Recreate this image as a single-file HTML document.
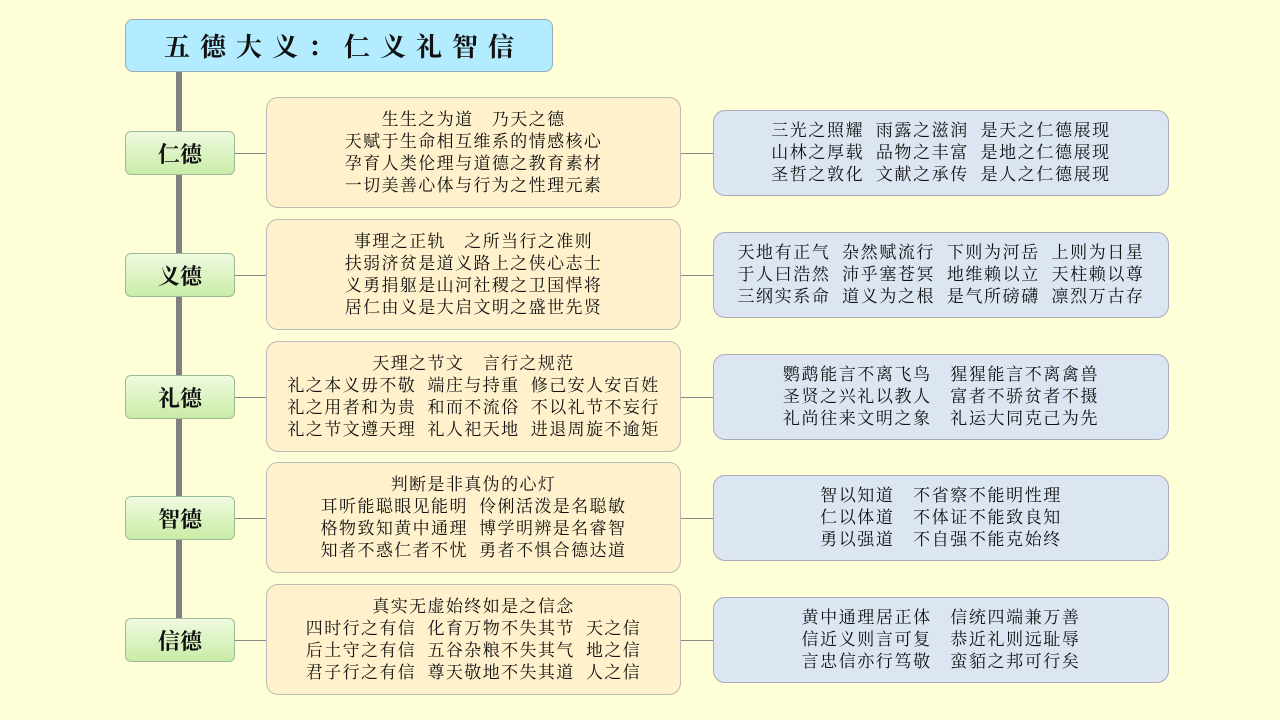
<!DOCTYPE html>
<html><head><meta charset="utf-8"><style>
body{margin:0;width:1280px;height:720px;background:#ffffd7;position:relative;overflow:hidden;font-family:"Liberation Serif","Noto Serif CJK SC",serif;color:#111}
.b{position:absolute;box-sizing:border-box;display:flex;flex-direction:column;justify-content:center;align-items:center;text-align:center;white-space:pre}
.t{left:125px;top:19px;width:428px;height:53px;background:#b3ecfe;border:1px solid #9ab;border-radius:8px;font-size:26px;font-weight:bold;letter-spacing:10px;padding-left:10px}
.l{left:125px;width:110px;height:44px;background:linear-gradient(#f0fae0,#c9eca6);border:1px solid #9b9;border-radius:6px;font-size:22px;font-weight:bold}
.m{left:266px;width:415px;height:111px;background:#fff1cc;border:1px solid #bbb;border-radius:12px;font-size:17px;line-height:22px;letter-spacing:1.4px}
.r{left:713px;width:456px;height:86px;background:#dce6f2;border:1px solid #aab;border-radius:12px;font-size:17px;line-height:22px;letter-spacing:1.6px}
.h{position:absolute;height:1px;background:#888}
</style></head><body>
<div style="position:absolute;left:176px;top:72px;width:6px;height:570px;background:#808080"></div>
<div class="b t">五德大义：仁义礼智信</div>

<div class="h" style="left:235px;top:153px;width:31px"></div><div class="h" style="left:681px;top:153px;width:32px"></div>
<div class="h" style="left:235px;top:275px;width:31px"></div><div class="h" style="left:681px;top:275px;width:32px"></div>
<div class="h" style="left:235px;top:397px;width:31px"></div><div class="h" style="left:681px;top:397px;width:32px"></div>
<div class="h" style="left:235px;top:518px;width:31px"></div><div class="h" style="left:681px;top:518px;width:32px"></div>
<div class="h" style="left:235px;top:640px;width:31px"></div><div class="h" style="left:681px;top:640px;width:32px"></div>

<div class="b l" style="top:131px">仁德</div>
<div class="b l" style="top:253px">义德</div>
<div class="b l" style="top:375px">礼德</div>
<div class="b l" style="top:496px">智德</div>
<div class="b l" style="top:618px">信德</div>

<div class="b m" style="top:97px"><div>生生之为道　乃天之德</div><div>天赋于生命相互维系的情感核心</div><div>孕育人类伦理与道德之教育素材</div><div>一切美善心体与行为之性理元素</div></div>
<div class="b m" style="top:219px"><div>事理之正轨　之所当行之准则</div><div>扶弱济贫是道义路上之侠心志士</div><div>义勇捐躯是山河社稷之卫国悍将</div><div>居仁由义是大启文明之盛世先贤</div></div>
<div class="b m" style="top:341px"><div>天理之节文　言行之规范</div><div>礼之本义毋不敬  端庄与持重  修己安人安百姓</div><div>礼之用者和为贵  和而不流俗  不以礼节不妄行</div><div>礼之节文遵天理  礼人祀天地  进退周旋不逾矩</div></div>
<div class="b m" style="top:462px"><div>判断是非真伪的心灯</div><div>耳听能聪眼见能明  伶俐活泼是名聪敏</div><div>格物致知黄中通理  博学明辨是名睿智</div><div>知者不惑仁者不忧  勇者不惧合德达道</div></div>
<div class="b m" style="top:584px"><div>真实无虚始终如是之信念</div><div>四时行之有信  化育万物不失其节  天之信</div><div>后土守之有信  五谷杂粮不失其气  地之信</div><div>君子行之有信  尊天敬地不失其道  人之信</div></div>

<div class="b r" style="top:110px"><div>三光之照耀  雨露之滋润  是天之仁德展现</div><div>山林之厚载  品物之丰富  是地之仁德展现</div><div>圣哲之敦化  文献之承传  是人之仁德展现</div></div>
<div class="b r" style="top:232px"><div>天地有正气  杂然赋流行  下则为河岳  上则为日星</div><div>于人曰浩然  沛乎塞苍冥  地维赖以立  天柱赖以尊</div><div>三纲实系命  道义为之根  是气所磅礴  凛烈万古存</div></div>
<div class="b r" style="top:354px"><div>鹦鹉能言不离飞鸟　猩猩能言不离禽兽</div><div>圣贤之兴礼以教人　富者不骄贫者不摄</div><div>礼尚往来文明之象　礼运大同克己为先</div></div>
<div class="b r" style="top:475px"><div>智以知道　不省察不能明性理</div><div>仁以体道　不体证不能致良知</div><div>勇以强道　不自强不能克始终</div></div>
<div class="b r" style="top:597px"><div>黄中通理居正体　信统四端兼万善</div><div>信近义则言可复　恭近礼则远耻辱</div><div>言忠信亦行笃敬　蛮貊之邦可行矣</div></div>
</body></html>
